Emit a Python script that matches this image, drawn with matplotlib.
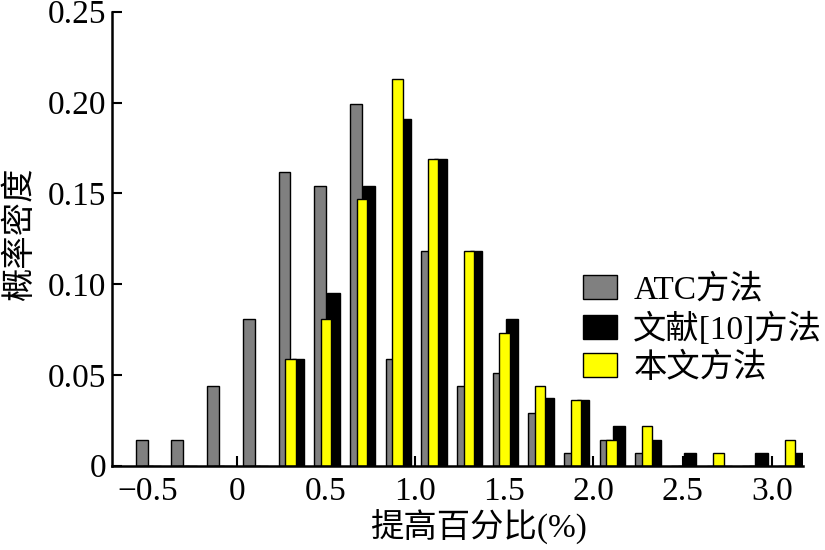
import matplotlib
matplotlib.use("Agg")
import matplotlib.pyplot as plt

plt.rcParams['font.family'] = ['Liberation Serif', 'Noto Sans CJK SC']
plt.rcParams['axes.unicode_minus'] = True

# bin centres (%), densities of the three methods
centers = [-0.5, -0.3, -0.1, 0.1, 0.3, 0.5, 0.7, 0.9, 1.1, 1.3,
           1.5, 1.7, 1.9, 2.1, 2.3, 2.5, 2.7, 2.9, 3.1]
atc = [0.014, 0.014, 0.044, 0.081, 0.162, 0.154, 0.199, 0.059, 0.118, 0.044,
       0.051, 0.029, 0.007, 0.014, 0.007, 0, 0, 0, 0]
ref10 = [0, 0, 0, 0, 0.059, 0.095, 0.154, 0.191, 0.169, 0.118,
         0.081, 0.037, 0.036, 0.022, 0.014, 0.007, 0, 0.007, 0.007]
ours = [0, 0, 0, 0, 0.059, 0.081, 0.147, 0.213, 0.169, 0.118,
        0.073, 0.044, 0.036, 0.014, 0.022, 0, 0.007, 0, 0.014]
labels = ['ATC方法', '文献[10]方法', '本文方法']

xticks = [-0.5, 0, 0.5, 1.0, 1.5, 2.0, 2.5, 3.0]
xticklabels = ['\u22120.5', '0', '0.5', '1.0', '1.5', '2.0', '2.5', '3.0']
yticks = [0, 0.05, 0.10, 0.15, 0.20, 0.25]
yticklabels = ['0', '0.05', '0.10', '0.15', '0.20', '0.25']

fig = plt.figure(figsize=(8.25, 5.5), dpi=100)
ax = fig.add_axes([0.1354, 0.1533, 0.8379, 0.8254])

fs = 24
b1 = ax.bar([c - 0.032 for c in centers], atc, width=0.066, color='#808080',
            edgecolor='black', linewidth=1.0, label=labels[0], zorder=2)
b2 = ax.bar([c + 0.043 for c in centers], ref10, width=0.069, color='black',
            edgecolor='black', linewidth=1.0, label=labels[1], zorder=3)
b3 = ax.bar([c + 0.002 for c in centers], ours, width=0.058, color='#ffff00',
            edgecolor='black', linewidth=1.0, label=labels[2], zorder=4)

ax.set_xlim(-0.7, 3.175)
ax.set_ylim(0, 0.25)
ax.set_xticks(xticks)
ax.set_xticklabels(xticklabels, fontsize=fs)
ax.set_yticks(yticks)
ax.set_yticklabels(yticklabels, fontsize=fs)
ax.tick_params(direction='in', length=7, width=1.5)
ax.tick_params(axis='x', pad=8)
ax.tick_params(axis='y', pad=4)

for s in ['top', 'right']:
    ax.spines[s].set_visible(False)
for s in ['left', 'bottom']:
    ax.spines[s].set_linewidth(1.8)
    ax.spines[s].set_zorder(5)

ax.set_xlabel('提高百分比(%)', fontsize=fs)
ax.xaxis.set_label_coords(0.531, -0.097)
ax.set_ylabel('概率密度', fontsize=fs)
ax.yaxis.set_label_coords(-0.11, 0.51)

ax.legend(handles=[b1, b2, b3], loc='upper left',
          bbox_to_anchor=(0.707, 0.50), bbox_transform=fig.transFigure,
          frameon=False, fontsize=fs, handlelength=1.0, handleheight=0.75,
          handletextpad=0.5, labelspacing=0.2, borderpad=0, borderaxespad=0)

fig.savefig('out.png', dpi=100)
